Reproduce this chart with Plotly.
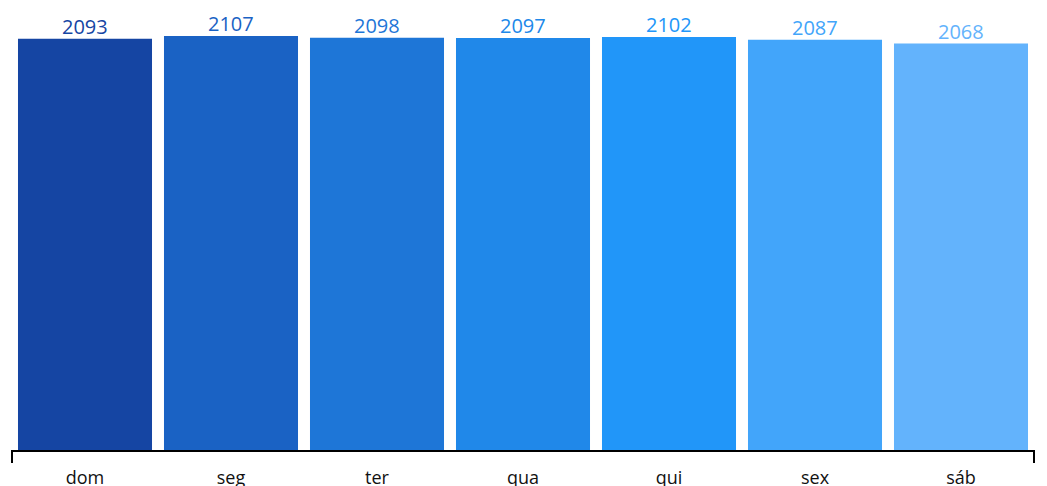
import plotly.graph_objects as go

days = ["dom", "seg", "ter", "qua", "qui", "sex", "sáb"]
counts = [2093, 2107, 2098, 2097, 2102, 2087, 2068]
colors = ["#1545A3", "#1A62C4", "#1E76D7", "#2088E9", "#2196F9", "#42A5FA", "#63B3FC"]

fig = go.Figure(
    go.Bar(
        x=days,
        y=counts,
        marker=dict(color=colors, line=dict(width=0)),
        hoverinfo="skip",
    )
)

for d, c, col in zip(days, counts, colors):
    fig.add_annotation(
        x=d,
        y=c,
        text=str(c),
        showarrow=False,
        xanchor="center",
        yanchor="bottom",
        yshift=-3,
        font=dict(color=col, size=20, family="Open Sans"),
    )

fig.update_layout(
    width=1039,
    height=478,
    margin=dict(l=4, r=13, t=12, b=36),
    paper_bgcolor="white",
    plot_bgcolor="white",
    bargap=0.082,
    font=dict(family="Open Sans", size=18, color="#111111"),
    showlegend=False,
    xaxis=dict(
        showline=True,
        linecolor="black",
        linewidth=2,
        ticks="",
        ticklabelstandoff=10,
        automargin=False,
        showgrid=False,
        tickfont=dict(size=18, color="#111111", family="Open Sans"),
        fixedrange=True,
    ),
    yaxis=dict(
        visible=False,
        range=[0, 2188],
        showgrid=False,
        zeroline=False,
        fixedrange=True,
    ),
)

# end ticks of the bracket-like axis
for xd in (0, 1):
    fig.add_shape(
        type="line",
        xref="x domain",
        yref="paper",
        x0=xd,
        x1=xd,
        y0=0,
        y1=-0.03,
        line=dict(color="black", width=2),
    )

fig.write_html("out.html")
